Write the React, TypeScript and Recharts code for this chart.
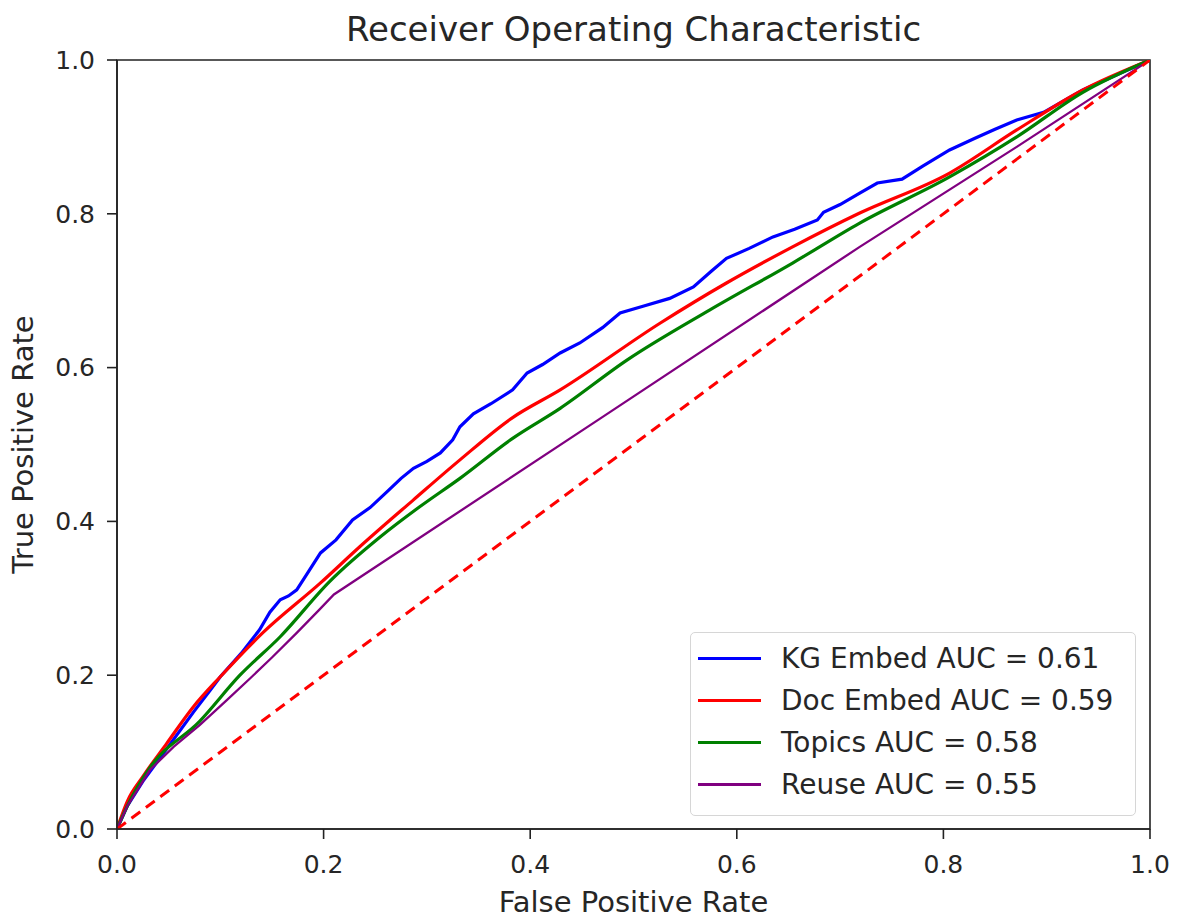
import React from 'react';
import { LineChart, Line, XAxis, YAxis, ReferenceArea, Legend } from 'recharts';

const kgEmbed = [
  { fpr: 0, tpr: 0 }, { fpr: 0.01, tpr: 0.03 }, { fpr: 0.025, tpr: 0.062 }, { fpr: 0.048, tpr: 0.104 },
  { fpr: 0.074, tpr: 0.152 }, { fpr: 0.09, tpr: 0.18 }, { fpr: 0.1, tpr: 0.198 }, { fpr: 0.12, tpr: 0.228 },
  { fpr: 0.138, tpr: 0.259 }, { fpr: 0.148, tpr: 0.282 }, { fpr: 0.158, tpr: 0.298 }, { fpr: 0.166, tpr: 0.303 },
  { fpr: 0.174, tpr: 0.311 }, { fpr: 0.186, tpr: 0.336 }, { fpr: 0.197, tpr: 0.359 }, { fpr: 0.212, tpr: 0.376 },
  { fpr: 0.228, tpr: 0.402 }, { fpr: 0.245, tpr: 0.418 }, { fpr: 0.261, tpr: 0.438 }, { fpr: 0.275, tpr: 0.456 },
  { fpr: 0.287, tpr: 0.469 }, { fpr: 0.3, tpr: 0.478 }, { fpr: 0.313, tpr: 0.489 }, { fpr: 0.325, tpr: 0.506 },
  { fpr: 0.332, tpr: 0.523 }, { fpr: 0.345, tpr: 0.54 }, { fpr: 0.362, tpr: 0.553 }, { fpr: 0.383, tpr: 0.571 },
  { fpr: 0.397, tpr: 0.593 }, { fpr: 0.412, tpr: 0.604 }, { fpr: 0.429, tpr: 0.619 }, { fpr: 0.448, tpr: 0.632 },
  { fpr: 0.47, tpr: 0.652 }, { fpr: 0.487, tpr: 0.671 }, { fpr: 0.51, tpr: 0.68 }, { fpr: 0.535, tpr: 0.69 },
  { fpr: 0.558, tpr: 0.705 }, { fpr: 0.575, tpr: 0.725 }, { fpr: 0.59, tpr: 0.742 }, { fpr: 0.612, tpr: 0.755 },
  { fpr: 0.635, tpr: 0.77 }, { fpr: 0.656, tpr: 0.78 }, { fpr: 0.678, tpr: 0.792 }, { fpr: 0.684, tpr: 0.802 },
  { fpr: 0.7, tpr: 0.812 }, { fpr: 0.719, tpr: 0.827 }, { fpr: 0.736, tpr: 0.84 }, { fpr: 0.76, tpr: 0.845 },
  { fpr: 0.78, tpr: 0.862 }, { fpr: 0.806, tpr: 0.883 }, { fpr: 0.83, tpr: 0.898 }, { fpr: 0.85, tpr: 0.91 },
  { fpr: 0.871, tpr: 0.922 }, { fpr: 0.897, tpr: 0.932 }, { fpr: 0.935, tpr: 0.961 }, { fpr: 1, tpr: 1 },
];

const docEmbed = [
  { fpr: 0, tpr: 0 }, { fpr: 0.01, tpr: 0.036 }, { fpr: 0.025, tpr: 0.068 }, { fpr: 0.048, tpr: 0.111 },
  { fpr: 0.074, tpr: 0.159 }, { fpr: 0.1, tpr: 0.198 }, { fpr: 0.141, tpr: 0.255 }, { fpr: 0.197, tpr: 0.32 },
  { fpr: 0.235, tpr: 0.367 }, { fpr: 0.287, tpr: 0.428 }, { fpr: 0.332, tpr: 0.48 }, { fpr: 0.383, tpr: 0.535 },
  { fpr: 0.429, tpr: 0.571 }, { fpr: 0.526, tpr: 0.658 }, { fpr: 0.59, tpr: 0.71 }, { fpr: 0.654, tpr: 0.757 },
  { fpr: 0.719, tpr: 0.801 }, { fpr: 0.806, tpr: 0.853 }, { fpr: 0.871, tpr: 0.909 }, { fpr: 0.935, tpr: 0.961 },
  { fpr: 1, tpr: 1 },
];

const topics = [
  { fpr: 0, tpr: 0 }, { fpr: 0.01, tpr: 0.03 }, { fpr: 0.032, tpr: 0.08 }, { fpr: 0.08, tpr: 0.14 },
  { fpr: 0.119, tpr: 0.2 }, { fpr: 0.158, tpr: 0.25 }, { fpr: 0.206, tpr: 0.322 }, { fpr: 0.255, tpr: 0.38 },
  { fpr: 0.293, tpr: 0.419 }, { fpr: 0.332, tpr: 0.456 }, { fpr: 0.383, tpr: 0.508 }, { fpr: 0.429, tpr: 0.547 },
  { fpr: 0.494, tpr: 0.61 }, { fpr: 0.574, tpr: 0.675 }, { fpr: 0.654, tpr: 0.736 }, { fpr: 0.719, tpr: 0.788 },
  { fpr: 0.806, tpr: 0.848 }, { fpr: 0.871, tpr: 0.9 }, { fpr: 0.935, tpr: 0.958 }, { fpr: 1, tpr: 1 },
];

const reuse = [
  { fpr: 0, tpr: 0 }, { fpr: 0.01, tpr: 0.03 }, { fpr: 0.032, tpr: 0.077 }, { fpr: 0.055, tpr: 0.107 },
  { fpr: 0.08, tpr: 0.135 }, { fpr: 0.105, tpr: 0.166 }, { fpr: 0.129, tpr: 0.196 }, { fpr: 0.15, tpr: 0.223 },
  { fpr: 0.174, tpr: 0.255 }, { fpr: 0.195, tpr: 0.284 }, { fpr: 0.21, tpr: 0.305 }, { fpr: 0.468, tpr: 0.534 },
  { fpr: 0.719, tpr: 0.757 }, { fpr: 0.871, tpr: 0.887 }, { fpr: 1, tpr: 1 },
];

const chance = [{ fpr: 0, tpr: 0 }, { fpr: 1, tpr: 1 }];

const series = [
  { name: 'KG Embed AUC = 0.61', data: kgEmbed, color: '#0000ff', width: 3.2, curve: 'linear' },
  { name: 'Doc Embed AUC = 0.59', data: docEmbed, color: '#ff0000', width: 3.2, curve: 'monotone' },
  { name: 'Topics AUC = 0.58', data: topics, color: '#008000', width: 3.2, curve: 'monotone' },
  { name: 'Reuse AUC = 0.55', data: reuse, color: '#800080', width: 2.3, curve: 'linear' },
];

const ticks = [0, 0.2, 0.4, 0.6, 0.8, 1.0];
const FONT = '"DejaVu Sans", sans-serif';
const TEXT = '#262626';

const LegendBox = () => (
  <div
    style={{
      boxSizing: 'border-box',
      width: 446,
      height: 184,
      border: '1.5px solid #d6d6d6',
      borderRadius: 5,
      background: 'rgba(255,255,255,0.85)',
      padding: '4px 0 0 7px',
      fontFamily: FONT,
      fontSize: 28,
      color: TEXT,
    }}
  >
    {series.map((s) => (
      <div key={s.name} style={{ display: 'flex', alignItems: 'center', height: 42 }}>
        <div style={{ width: 63, height: 0, borderTop: `3px solid ${s.color}`, marginRight: 20 }} />
        <span style={{ whiteSpace: 'nowrap' }}>{s.name}</span>
      </div>
    ))}
  </div>
);

const YLabel = (props: any) => {
  const vb = props.viewBox || {};
  const cx = 23;
  const cy = (vb.y ?? 60) + (vb.height ?? 769) / 2;
  return (
    <text
      x={cx}
      y={cy}
      transform={`rotate(-90, ${cx}, ${cy})`}
      textAnchor="middle"
      dominantBaseline="central"
      fontFamily={FONT}
      fontSize={29}
      fill={TEXT}
    >
      True Positive Rate
    </text>
  );
};

export default function App() {
  return (
    <div style={{ position: 'absolute', left: 0, top: 0, width: 1179, height: 920, background: '#fff' }}>
      <div
        style={{
          position: 'absolute',
          left: 117,
          top: 12,
          width: 1033,
          textAlign: 'center',
          fontFamily: FONT,
          fontSize: 34,
          lineHeight: 1,
          color: TEXT,
        }}
      >
        Receiver Operating Characteristic
      </div>
      <LineChart width={1179} height={920} margin={{ top: 60, right: 29, left: 0, bottom: 0 }}>
        <XAxis
          type="number"
          dataKey="fpr"
          domain={[0, 1]}
          ticks={ticks}
          allowDataOverflow
          tickFormatter={(v: number) => v.toFixed(1)}
          height={91}
          tickSize={10}
          tickMargin={16}
          axisLine={{ stroke: '#222', strokeWidth: 1.6 }}
          tickLine={{ stroke: '#222', strokeWidth: 1.6 }}
          tick={{ fontFamily: FONT, fontSize: 25, fill: TEXT }}
          label={{ value: 'False Positive Rate', position: 'insideBottom', offset: 8, fontFamily: FONT, fontSize: 29, fill: TEXT }}
        />
        <YAxis
          type="number"
          dataKey="tpr"
          domain={[0, 1]}
          ticks={ticks}
          allowDataOverflow
          tickFormatter={(v: number) => v.toFixed(1)}
          width={117}
          tickSize={10}
          tickMargin={12}
          axisLine={{ stroke: '#222', strokeWidth: 1.6 }}
          tickLine={{ stroke: '#222', strokeWidth: 1.6 }}
          tick={{ fontFamily: FONT, fontSize: 25, fill: TEXT }}
          label={<YLabel />}
        />
        {series.map((s) => (
          <Line
            key={s.name}
            data={s.data}
            dataKey="tpr"
            name={s.name}
            type={s.curve as any}
            stroke={s.color}
            strokeWidth={s.width}
            dot={false}
            activeDot={false}
            isAnimationActive={false}
          />
        ))}
        <Line
          data={chance}
          dataKey="tpr"
          name="chance"
          type="linear"
          stroke="#ff0000"
          strokeWidth={3}
          strokeDasharray="11 7"
          dot={false}
          activeDot={false}
          isAnimationActive={false}
          legendType="none"
        />
        <ReferenceArea x1={0} x2={1} y1={0} y2={1} fill="none" stroke="#222" strokeWidth={1.6} />
        <Legend
          layout="vertical"
          align="center"
          verticalAlign="middle"
          content={() => <LegendBox />}
          wrapperStyle={{ left: 690, top: 632, width: 446, height: 184 }}
        />
      </LineChart>
    </div>
  );
}
